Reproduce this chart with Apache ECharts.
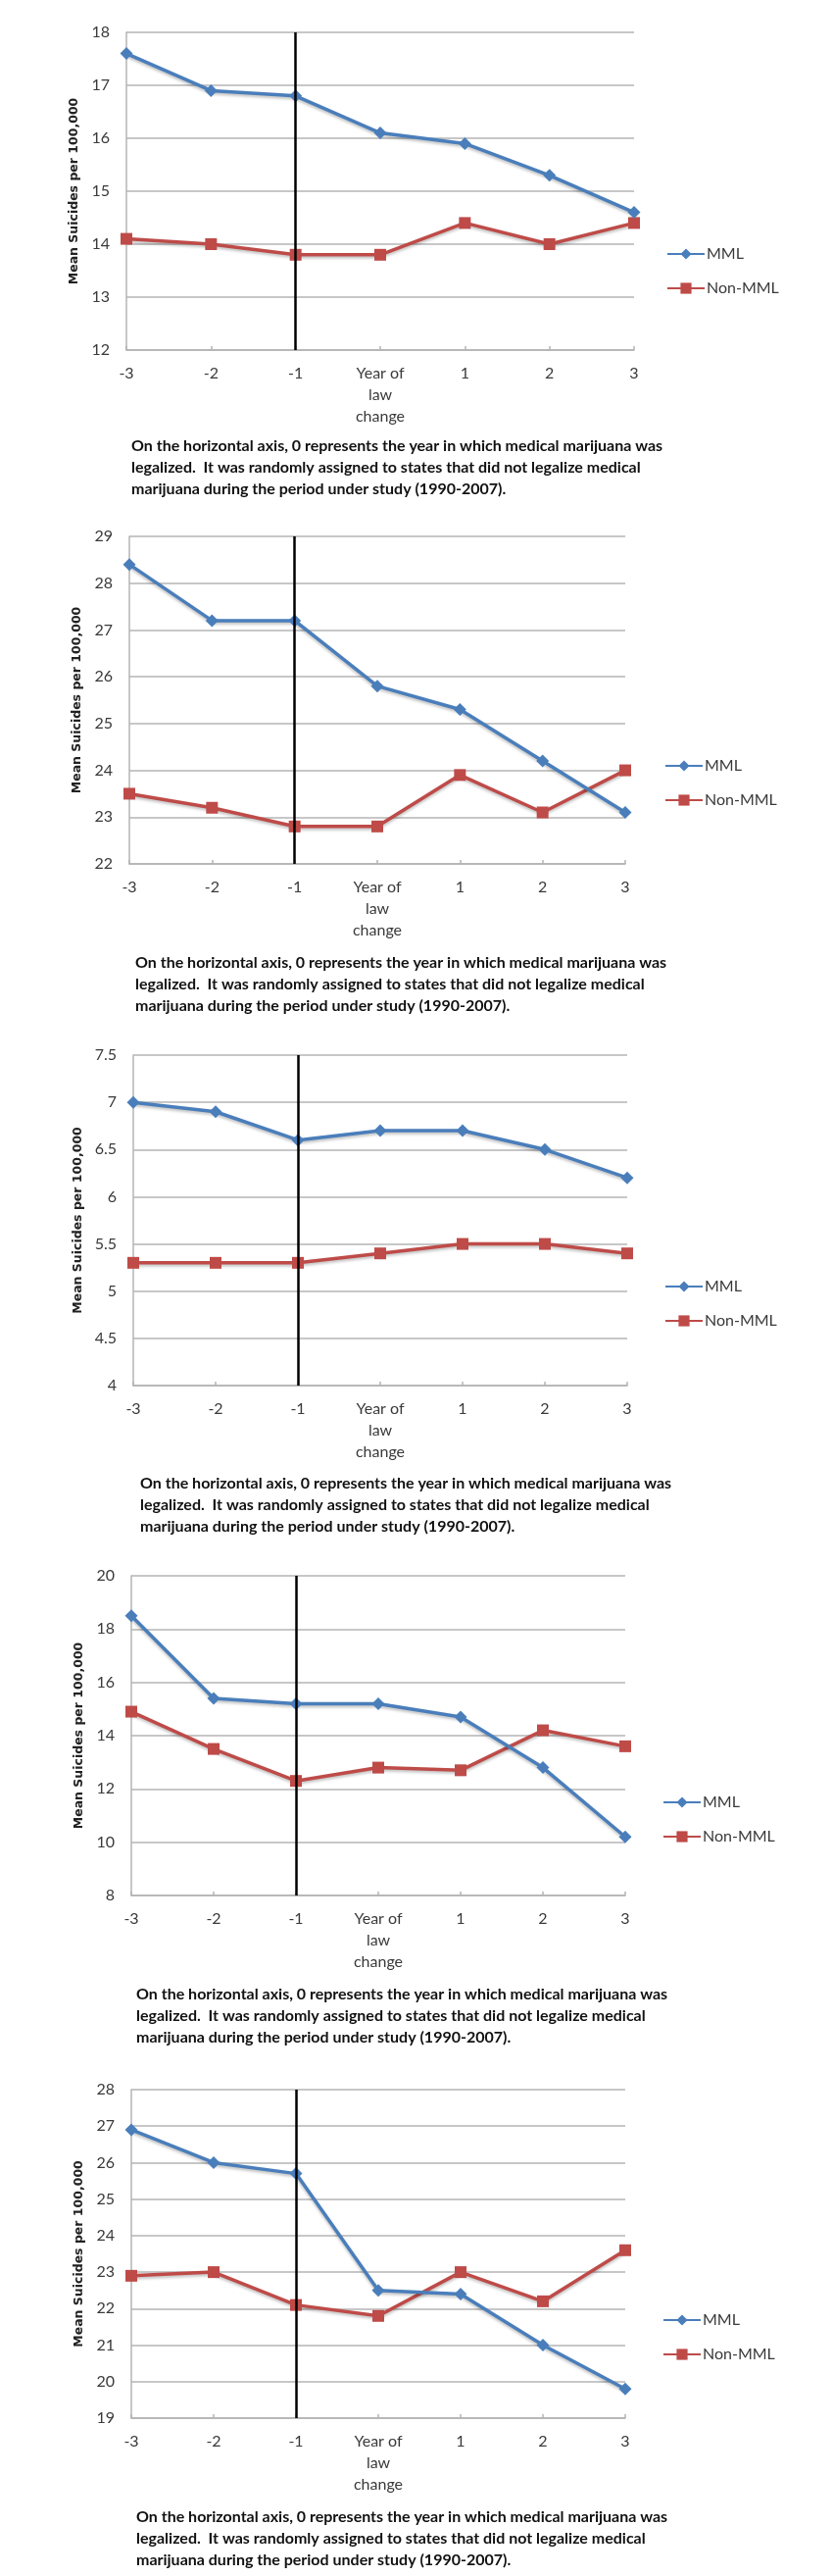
<!DOCTYPE html>
<html>
<head>
<meta charset="utf-8">
<script src="https://cdn.jsdelivr.net/npm/echarts@6/dist/echarts.min.js"></script>
<style>
  html, body { margin: 0; padding: 0; background: #ffffff; }
  #chart { width: 850px; height: 2627px; }
</style>
</head>
<body>
<div id="chart"></div>
<script>
// ---- Data ----
const categories = ['-3', '-2', '-1', 'Year of\nlaw\nchange', '1', '2', '3'];
const seriesNames = ['MML', 'Non-MML'];
const yTitle = 'Mean Suicides per 100,000';
const captionText = 'On the horizontal axis, 0 represents the year in which medical marijuana was\nlegalized.  It was randomly assigned to states that did not legalize medical\nmarijuana during the period under study (1990-2007).';
const lawLineCategory = '-1';

const mml1 = [17.6, 16.9, 16.8, 16.1, 15.9, 15.3, 14.6];
const nonMml1 = [14.1, 14.0, 13.8, 13.8, 14.4, 14.0, 14.4];
const yAxis1 = { min: 12, max: 18, interval: 1 };

const mml2 = [28.4, 27.2, 27.2, 25.8, 25.3, 24.2, 23.1];
const nonMml2 = [23.5, 23.2, 22.8, 22.8, 23.9, 23.1, 24.0];
const yAxis2 = { min: 22, max: 29, interval: 1 };

const mml3 = [7.0, 6.9, 6.6, 6.7, 6.7, 6.5, 6.2];
const nonMml3 = [5.3, 5.3, 5.3, 5.4, 5.5, 5.5, 5.4];
const yAxis3 = { min: 4, max: 7.5, interval: 0.5 };

const mml4 = [18.5, 15.4, 15.2, 15.2, 14.7, 12.8, 10.2];
const nonMml4 = [14.9, 13.5, 12.3, 12.8, 12.7, 14.2, 13.6];
const yAxis4 = { min: 8, max: 20, interval: 2 };

const mml5 = [26.9, 26.0, 25.7, 22.5, 22.4, 21.0, 19.8];
const nonMml5 = [22.9, 23.0, 22.1, 21.8, 23.0, 22.2, 23.6];
const yAxis5 = { min: 19, max: 28, interval: 1 };

const panelsData = [
  { mml: mml1, non: nonMml1, y: yAxis1 },
  { mml: mml2, non: nonMml2, y: yAxis2 },
  { mml: mml3, non: nonMml3, y: yAxis3 },
  { mml: mml4, non: nonMml4, y: yAxis4 },
  { mml: mml5, non: nonMml5, y: yAxis5 }
];

// ---- Layout (pixels) ----
const layout = [
  { left: 129, top: 33,   width: 518, height: 324, legL: 675, legT: 246, capL: 134, capT: 444 },
  { left: 132, top: 547,  width: 506, height: 334, legL: 673, legT: 768, capL: 138, capT: 971 },
  { left: 136, top: 1076, width: 504, height: 337, legL: 673, legT: 1299, capL: 143, capT: 1502 },
  { left: 134, top: 1607, width: 504, height: 326, legL: 671, legT: 1825, capL: 139, capT: 2023 },
  { left: 134, top: 2131, width: 504, height: 335, legL: 671, legT: 2353, capL: 139, capT: 2556 }
];

const BLUE = '#4A7EBB';
const RED = '#BE4B48';
const GRID = '#b4b4b4';
const TXT = '#3a3a3a';

const grids = [], xAxes = [], yAxes = [], series = [], legends = [], graphics = [];

panelsData.forEach((p, i) => {
  const L = layout[i];
  grids.push({ left: L.left, top: L.top, width: L.width, height: L.height, containLabel: false });
  xAxes.push({
    type: 'category', gridIndex: i, data: categories, boundaryGap: false,
    axisLine: { show: true, lineStyle: { color: GRID, width: 1.5 } },
    axisTick: { show: true, inside: true, length: 4, alignWithLabel: true, lineStyle: { color: GRID, width: 1.5 } },
    axisLabel: { interval: 0, color: TXT, fontFamily: 'Lato', fontSize: 16, lineHeight: 22, margin: 13 },
    splitLine: { show: false }
  });
  yAxes.push({
    type: 'value', gridIndex: i, min: p.y.min, max: p.y.max, interval: p.y.interval,
    axisLine: { show: true, lineStyle: { color: GRID, width: 1.5 } },
    axisTick: { show: false },
    axisLabel: { color: TXT, fontFamily: 'Lato', fontSize: 16, margin: 17 },
    splitLine: { show: true, lineStyle: { color: GRID, width: 1.5 } },
    name: yTitle, nameLocation: 'middle', nameGap: 43,
    nameTextStyle: { fontFamily: 'DejaVu Sans', fontWeight: 'bold', fontSize: 12.5, color: '#222' }
  });
  series.push({
    name: seriesNames[0], type: 'line', xAxisIndex: i, yAxisIndex: i, data: p.mml,
    symbol: 'diamond', symbolSize: 13, showAllSymbol: true,
    lineStyle: { color: BLUE, width: 3.5, shadowColor: 'rgba(0,0,0,0.25)', shadowBlur: 3, shadowOffsetY: 2 },
    itemStyle: { color: BLUE }, z: 3, animation: false,
    markLine: {
      silent: true, symbol: 'none', label: { show: false }, animation: false,
      lineStyle: { color: '#000', width: 2.5, type: 'solid' },
      data: [{ xAxis: lawLineCategory }]
    }
  });
  series.push({
    name: seriesNames[1], type: 'line', xAxisIndex: i, yAxisIndex: i, data: p.non,
    symbol: 'rect', symbolSize: 12, showAllSymbol: true,
    lineStyle: { color: RED, width: 3.5, shadowColor: 'rgba(0,0,0,0.25)', shadowBlur: 3, shadowOffsetY: 2 },
    itemStyle: { color: RED }, z: 2, animation: false
  });
  legends.push({
    orient: 'vertical', left: L.legL, top: L.legT, itemWidth: 38, itemHeight: 14, itemGap: 19,
    data: seriesNames, selectedMode: false,
    textStyle: { fontFamily: 'Lato', fontSize: 16, color: TXT, padding: [0, 0, 0, -3] }
  });
  graphics.push({
    type: 'text', left: L.capL, top: L.capT,
    style: { text: captionText, font: 'bold 16px Lato', lineHeight: 22, fill: '#111' }
  });
});

const chart = echarts.init(document.getElementById('chart'), null, { renderer: 'canvas' });
chart.setOption({
  backgroundColor: '#ffffff',
  animation: false,
  grid: grids, xAxis: xAxes, yAxis: yAxes, series: series, legend: legends,
  graphic: graphics
});
</script>
</body>
</html>
